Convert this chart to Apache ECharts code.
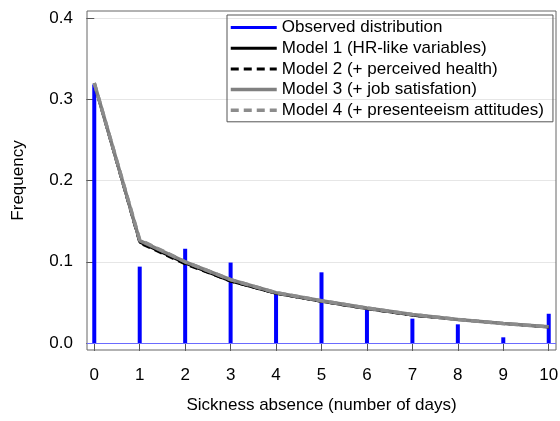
<!DOCTYPE html>
<html>
<head>
<meta charset="utf-8">
<script src="https://cdn.jsdelivr.net/npm/echarts@6/dist/echarts.min.js"></script>
<style>
  html, body { margin: 0; padding: 0; background: #fff; }
  #container { width: 560px; height: 421px; }
</style>
</head>
<body>
<div id="container"></div>
<script>
// sickness absence days 0..10
var days = [0, 1, 2, 3, 4, 5, 6, 7, 8, 9, 10];
var observed = [0.318, 0.094, 0.116, 0.099, 0.061, 0.087, 0.041, 0.030, 0.023, 0.007, 0.036];
var model1 = [0.319, 0.124, 0.098, 0.076, 0.061, 0.051, 0.042, 0.034, 0.029, 0.024, 0.0195];
var model2 = [0.319, 0.123, 0.097, 0.076, 0.061, 0.051, 0.042, 0.034, 0.029, 0.024, 0.0195];
var model3 = [0.320, 0.126, 0.100, 0.078, 0.062, 0.052, 0.043, 0.035, 0.029, 0.024, 0.020];
var model4 = [0.320, 0.127, 0.100, 0.078, 0.062, 0.052, 0.043, 0.035, 0.029, 0.024, 0.020];
var yTicks = [0, 0.1, 0.2, 0.3, 0.4];

function pairs(vals) {
  var out = [];
  for (var i = 0; i < days.length; i++) {
    out.push([days[i], vals[i]]);
  }
  return out;
}

var myChart = echarts.init(document.getElementById('container'));
var font = 'Liberation Sans, Arial, sans-serif';
var noSymbol = { opacity: 0 };

var option = {
  animation: false,
  textStyle: { fontFamily: font },
  grid: {
    left: 87, top: 11, right: 4, bottom: 71,
    outerBoundsMode: 'none',
    show: true, borderColor: '#666', borderWidth: 1, z: 3
  },
  legend: {
    orient: 'vertical',
    left: 227, top: 15,
    padding: [4, 9, 3, 2],
    borderColor: '#555', borderWidth: 1,
    itemWidth: 46, itemHeight: 14, itemGap: 3.7,
    textStyle: { fontSize: 17, color: '#000', fontFamily: font },
    data: [
      { name: 'Observed distribution', icon: 'path://M0,0 L46,0 L46,3 L0,3 Z' },
      { name: 'Model 1 (HR-like variables)', itemStyle: noSymbol, lineStyle: { width: 3 } },
      { name: 'Model 2 (+ perceived health)', itemStyle: noSymbol, lineStyle: { width: 3 } },
      { name: 'Model 3 (+ job satisfation)', itemStyle: noSymbol, lineStyle: { width: 3.5 } },
      { name: 'Model 4 (+ presenteeism attitudes)', itemStyle: noSymbol, lineStyle: { width: 3.5 } }
    ]
  },
  xAxis: {
    type: 'value',
    min: -0.16, max: 10.16,
    name: 'Sickness absence (number of days)',
    nameLocation: 'middle', nameGap: 47,
    nameTextStyle: { fontSize: 17, color: '#000' },
    axisLine: { show: false },
    axisTick: { show: true, length: 8, customValues: days, lineStyle: { color: '#555' } },
    axisLabel: { customValues: days, fontSize: 17, color: '#000', margin: 17 },
    splitLine: { show: false }
  },
  yAxis: {
    type: 'value',
    min: -0.0086, max: 0.4086,
    name: 'Frequency',
    nameLocation: 'middle', nameGap: 60,
    nameTextStyle: { fontSize: 17, color: '#000' },
    axisLine: { show: false },
    axisTick: { show: true, length: 8, customValues: yTicks, lineStyle: { color: '#555' } },
    axisLabel: {
      customValues: yTicks, fontSize: 17, color: '#000', margin: 14,
      formatter: function (v) { return v.toFixed(1); }
    },
    splitLine: { show: true, lineStyle: { color: '#e6e6e6', width: 1 } }
  },
  series: [
    {
      name: 'Observed distribution',
      type: 'bar',
      barWidth: 4,
      itemStyle: { color: '#0000ff' },
      data: pairs(observed),
      markLine: {
        silent: true,
        symbol: 'none',
        label: { show: false },
        lineStyle: { color: '#6b6bff', width: 1, type: 'solid' },
        data: [{ yAxis: 0 }]
      }
    },
    {
      name: 'Model 1 (HR-like variables)',
      type: 'line', symbol: 'none',
      lineStyle: { color: '#000', width: 2.5 },
      itemStyle: { color: '#000' },
      data: pairs(model1)
    },
    {
      name: 'Model 2 (+ perceived health)',
      type: 'line', symbol: 'none',
      lineStyle: { color: '#000', width: 2.5, type: [8, 5] },
      itemStyle: { color: '#000' },
      data: pairs(model2)
    },
    {
      name: 'Model 3 (+ job satisfation)',
      type: 'line', symbol: 'none',
      lineStyle: { color: '#808080', width: 3.5 },
      itemStyle: { color: '#808080' },
      data: pairs(model3)
    },
    {
      name: 'Model 4 (+ presenteeism attitudes)',
      type: 'line', symbol: 'none',
      lineStyle: { color: '#8c8c8c', width: 3.5, type: [8, 5] },
      itemStyle: { color: '#8c8c8c' },
      data: pairs(model4)
    }
  ]
};

myChart.setOption(option);
</script>
</body>
</html>
